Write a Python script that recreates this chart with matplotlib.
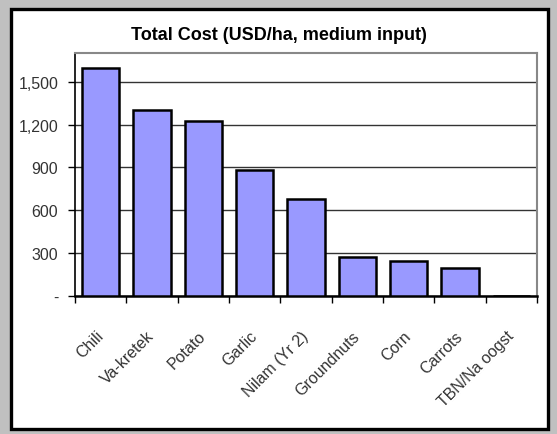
import numpy as np
import matplotlib.pyplot as plt
from matplotlib.patches import Rectangle
from matplotlib.ticker import FixedLocator, FuncFormatter

crops = ["Chili", "Va-kretek", "Potato", "Garlic", "Nilam (Yr 2)",
         "Groundnuts", "Corn", "Carrots", "TBN/Na oogst"]
total_cost = [1600, 1300, 1225, 885, 675, 270, 245, 195, 0]
y_ticks = [0, 300, 600, 900, 1200, 1500]

plt.rcParams['font.family'] = ['Liberation Sans', 'DejaVu Sans']

W, H = 557, 435
fig = plt.figure(figsize=(W / 100, H / 100), dpi=100)
fig.patch.set_facecolor('#c0c0c0')

# white chart area with heavy black frame, kept behind the axes
fig.patches.append(Rectangle((10.5 / W, 1 - 430 / H), 537 / W, 420 / H,
                             transform=fig.transFigure, facecolor='white',
                             edgecolor='black', linewidth=2.4, zorder=-5))

ax = fig.add_axes([75 / W, 1 - 296.7 / H, 462 / W, 242.4 / H])
x = np.arange(len(crops))
ax.bar(x, total_cost, width=0.73, color='#9999ff', edgecolor='black',
       linewidth=1.8, zorder=3)

ax.set_xlim(-0.5, len(crops) - 0.5)
ax.set_ylim(0, 1700)

ax.set_yticks(y_ticks)
ax.yaxis.set_major_formatter(FuncFormatter(
    lambda v, p: '-' if v == 0 else f'{int(v):,}'))
ax.grid(axis='y', color='#333333', linewidth=1.0, zorder=1)
ax.tick_params(axis='y', direction='out', length=5, width=1, pad=7,
               labelsize=11.5, labelcolor='#333333')

# category labels at centres, tick marks on the boundaries
ax.set_xticks(x)
ax.set_xticklabels(crops, rotation=45, ha='right', va='center',
                   rotation_mode='anchor', fontsize=11.5, color='#333333')
ax.tick_params(axis='x', which='major', length=0, pad=27)
ax.xaxis.set_minor_locator(FixedLocator(np.arange(-0.5, len(crops), 1.0)))
ax.tick_params(axis='x', which='minor', direction='out', length=5, width=1)

for side in ('top', 'right'):
    ax.spines[side].set_color('#888888')
    ax.spines[side].set_linewidth(1.5)
ax.spines['left'].set_linewidth(1.2)
ax.spines['bottom'].set_linewidth(1.8)

fig.text(0.5, 1 - 35 / H, "Total Cost (USD/ha, medium input)",
         ha='center', va='center', fontsize=13, fontweight='bold')

fig.savefig('out.png', dpi=100, facecolor=fig.get_facecolor())
